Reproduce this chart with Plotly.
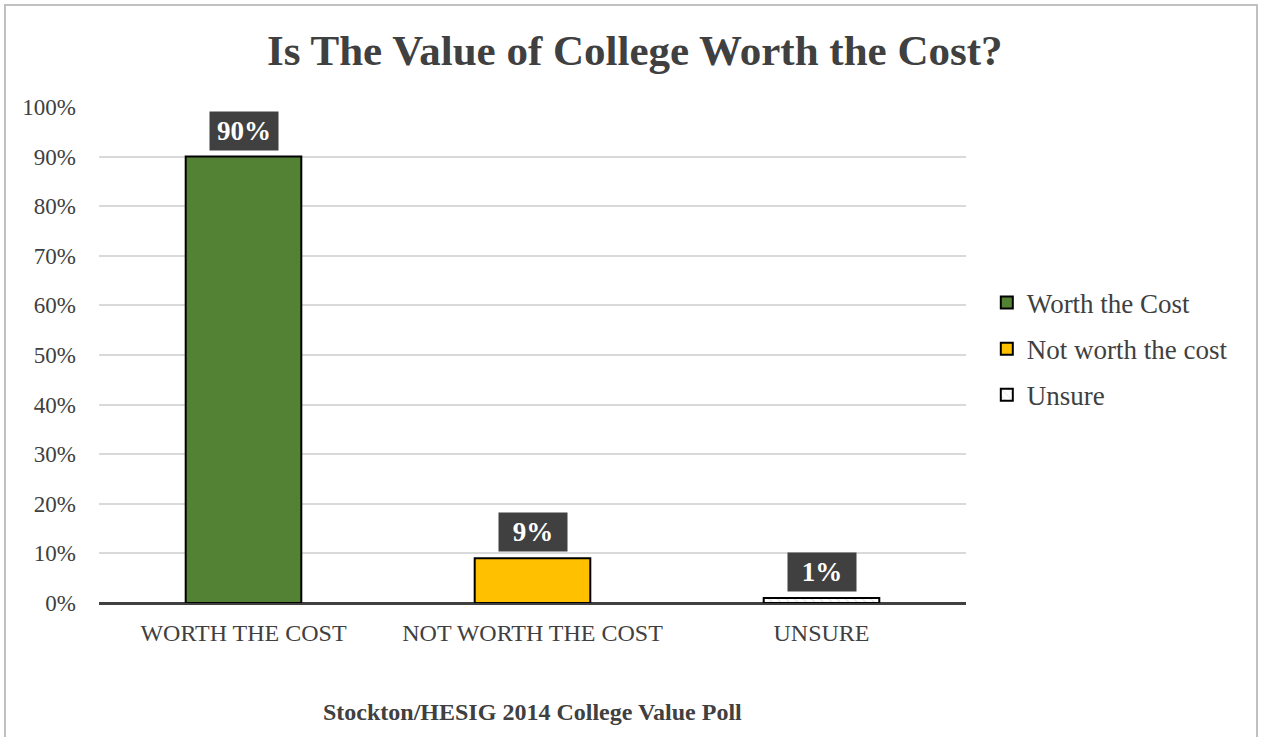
import plotly.graph_objects as go

# Poll results
categories = ["WORTH THE COST", "NOT WORTH THE COST", "UNSURE"]
series_names = ["Worth the Cost", "Not worth the cost", "Unsure"]
values = [90, 9, 1]
fill_colors = ["#548235", "#FFC000", "#FFFFFF"]
y_ticks = [0, 10, 20, 30, 40, 50, 60, 70, 80, 90, 100]
y_tick_labels = [f"{t}%" for t in y_ticks]

TEXT = "#404040"
SERIF = "Liberation Serif, Times New Roman, serif"

fig = go.Figure()

for cat, name, val, col in zip(categories, series_names, values, fill_colors):
    marker = dict(color=col, line=dict(color="#000000", width=2))
    if name == "Unsure":
        marker["pattern"] = dict(shape="\\", fgcolor="#c8c8c8", bgcolor="#ffffff", size=6, solidity=0.2)
    fig.add_trace(go.Bar(
        x=[cat], y=[val], name=name, width=0.4, legendgroup=name,
        marker=marker, hoverinfo="skip",
    ))
    fig.add_annotation(
        x=cat, y=val, text=f"<b>{val}%</b>", showarrow=False,
        yanchor="bottom", yshift=6, width=58, height=28,
        font=dict(family=SERIF, size=27, color="#ffffff"),
        bgcolor="#404040", borderpad=5,
    )

# Footer source line
fig.add_annotation(
    xref="paper", yref="paper", x=0.5, y=-0.22, yanchor="middle",
    text="<b>Stockton/HESIG 2014 College Value Poll</b>", showarrow=False,
    font=dict(family=SERIF, size=24, color=TEXT),
)

# Outer chart border
fig.add_shape(
    type="rect", xref="paper", yref="paper",
    x0=(5 - 99) / 867, x1=(1257 - 99) / 867,
    y0=(603 - 760) / 496, y1=(603 - 5) / 496,
    line=dict(color="#c0c0c0", width=2), layer="below",
)

fig.update_layout(
    width=1262, height=737,
    margin=dict(l=99, r=296, t=107, b=134),
    paper_bgcolor="#ffffff", plot_bgcolor="#ffffff",
    barmode="overlay",
    title=dict(
        text="<b>Is The Value of College Worth the Cost?</b>",
        x=0.503, xanchor="center", y=0.932, yanchor="middle",
        font=dict(family=SERIF, size=43, color=TEXT),
    ),
    font=dict(family=SERIF, color=TEXT),
    legend=dict(
        x=1.024, y=0.512, xanchor="left", yanchor="middle",
        font=dict(family=SERIF, size=27, color=TEXT),
        itemsizing="constant", tracegroupgap=8, itemwidth=30,
        bgcolor="rgba(0,0,0,0)",
    ),
    showlegend=True,
)

fig.update_xaxes(
    type="category", categoryorder="array", categoryarray=categories,
    showgrid=False, showline=False, ticks="", ticklabelstandoff=13,
    tickfont=dict(family=SERIF, size=24, color=TEXT),
)
fig.update_yaxes(
    range=[0, 100], tickvals=y_ticks, ticktext=y_tick_labels,
    showgrid=True, gridcolor="#d9d9d9", gridwidth=1.5,
    zeroline=True, zerolinecolor="#404040", zerolinewidth=3,
    showline=False, ticks="", ticklabelstandoff=22,
    tickfont=dict(family=SERIF, size=23, color=TEXT),
)

fig.write_html("out.html")
